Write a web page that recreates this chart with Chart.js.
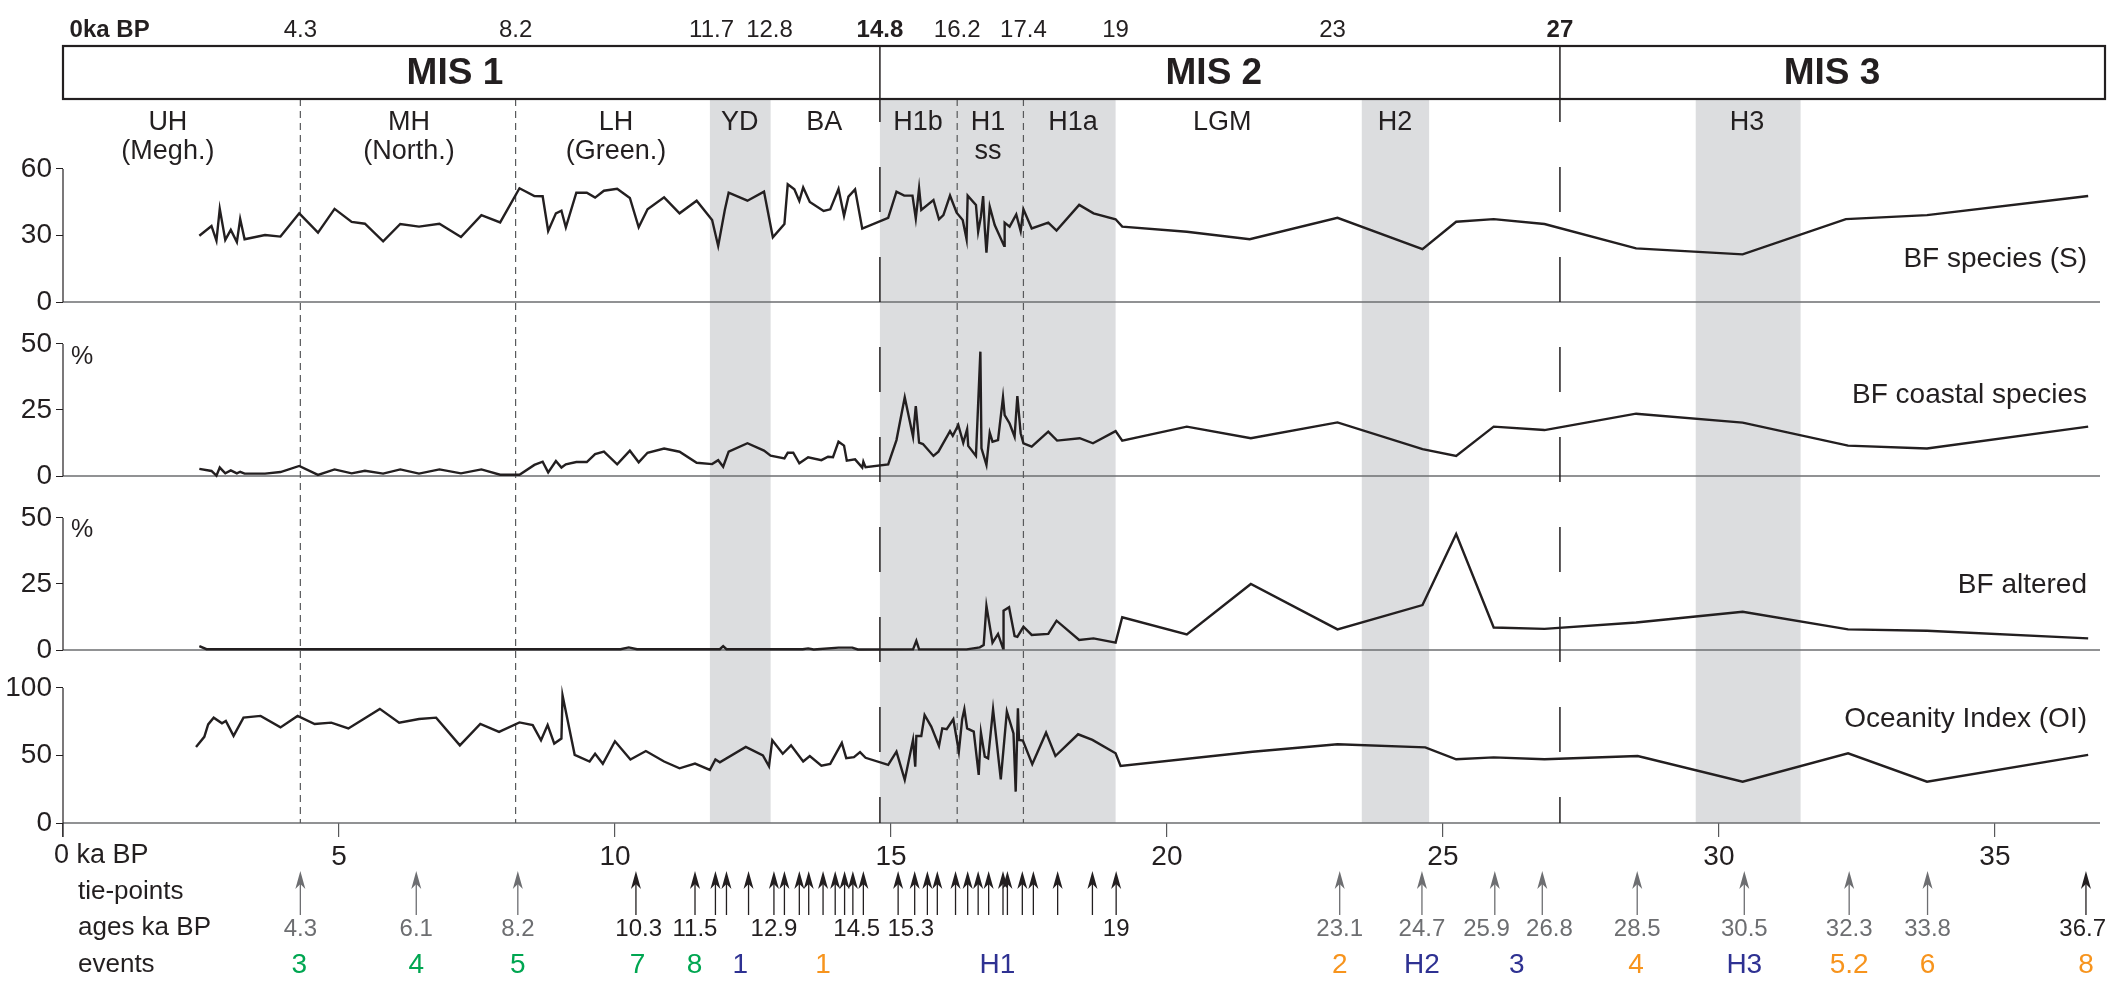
<!DOCTYPE html>
<html><head><meta charset="utf-8">
<script src="https://cdn.jsdelivr.net/npm/chart.js@4.4.1/dist/chart.umd.min.js"></script>
<style>html,body{margin:0;padding:0;background:#fff}#wrap{width:2112px;height:981px}</style>
</head><body><div id="wrap"><canvas id="c" width="2112" height="981"></canvas></div>
<script>
// ---------------- DATA ----------------
const speciesAge = [2.47,2.69,2.78,2.84,2.94,3.04,3.15,3.21,3.29,3.66,3.94,4.28,4.62,4.92,5.23,5.47,5.8,6.11,6.45,6.82,7.21,7.58,7.92,8.27,8.54,8.69,8.79,8.93,9.03,9.11,9.3,9.49,9.64,9.8,10.04,10.27,10.43,10.59,10.89,11.17,11.48,11.76,11.87,11.99,12.06,12.4,12.7,12.86,13.07,13.13,13.25,13.34,13.41,13.53,13.78,13.9,14.05,14.15,14.23,14.35,14.48,14.95,15.1,15.24,15.39,15.45,15.51,15.55,15.77,15.87,15.95,16.07,16.19,16.3,16.37,16.39,16.54,16.58,16.63,16.67,16.7,16.73,16.79,16.88,17.05,17.06,17.15,17.27,17.35,17.4,17.55,17.85,18.0,18.41,18.67,19.07,19.19,20.36,21.5,23.09,24.63,25.24,25.92,26.84,28.5,30.43,32.3,33.77,36.69];
const speciesS = [29.9,34.3,27.7,42,28,32.5,27,37.4,28.3,30.2,29.5,40,31.3,42,36.1,35.3,27.4,35.2,34,35.3,29.3,39.2,35.9,51.3,47.8,47.7,32,40,41.2,33.7,49.3,49.3,47.1,50.2,51.1,46.9,33.7,41.8,47.2,40,45.7,37,25.3,41.5,49.3,45.7,49.8,29.2,35.2,53.1,50.8,45.6,51.7,45.1,41.1,41.8,51,38.9,47.5,50.8,33.1,38,49.8,48,48,37.7,51.3,41.5,46,37.3,39.2,48,40.3,37,28.3,48,43.8,31.7,38.5,47.8,33.2,22.3,43,34.7,25.3,35.8,34,39.5,32,41.8,33.2,35.8,32.2,43.8,40,37.3,34,31.7,28.3,38,23.8,36.2,37.4,35.2,24.2,21.5,37.4,39.2,47.8];

const coastalAge = [2.47,2.69,2.78,2.84,2.94,3.04,3.15,3.21,3.29,3.66,3.94,4.28,4.62,4.92,5.23,5.47,5.8,6.11,6.45,6.82,7.21,7.58,7.92,8.27,8.54,8.69,8.79,8.93,9.03,9.11,9.3,9.49,9.64,9.8,10.04,10.27,10.43,10.59,10.89,11.17,11.48,11.76,11.87,11.96,12.06,12.4,12.7,12.82,13.07,13.13,13.23,13.34,13.5,13.74,13.86,13.95,14.05,14.15,14.2,14.35,14.48,14.5,14.54,14.95,15.1,15.25,15.4,15.45,15.51,15.58,15.77,15.86,16.07,16.12,16.22,16.31,16.38,16.4,16.54,16.62,16.64,16.73,16.79,16.84,16.94,17.03,17.06,17.15,17.24,17.29,17.35,17.4,17.55,17.85,18.01,18.42,18.66,19.07,19.19,20.36,21.52,23.09,24.63,25.24,25.92,26.84,28.5,30.43,32.34,33.77,36.69];
const coastalPct = [2.7,1.9,0.1,3.2,1,2.1,1,1.6,0.9,0.9,1.5,3.8,0.4,2.5,1,2,0.9,2.5,0.9,2.5,1,2.5,0.5,0.5,4.2,5.4,1.4,5.7,3.2,4.4,5.3,5.3,8.3,9.2,4.4,9.6,5.2,8.8,10.4,9.2,5,4.5,6,3.5,9.2,12.4,9.6,7.7,6.7,8.8,8.8,4.8,7.1,6,7.3,7.1,13,11.5,5.8,6.3,3.2,5.4,3.3,4.4,13.6,29.8,14.9,26.5,12.6,12.1,7.6,9.2,17,15.2,19.3,12.6,17.7,11.4,7.6,47.1,10.5,4.2,16.4,13,13.6,29.8,23.1,19.9,14.9,30.3,16.2,12.4,11.1,16.8,13.4,14.3,12.4,17,13.4,18.7,14.3,20.3,10.2,7.6,18.7,17.4,23.6,20.2,11.5,10.4,18.7];

const alteredAge = [2.47,2.6,10.1,10.25,10.4,11.9,11.96,12.02,13.4,13.5,13.6,14.05,14.3,14.4,15.4,15.46,15.51,16.37,16.61,16.68,16.73,16.84,16.94,17.03,17.04,17.14,17.24,17.29,17.4,17.55,17.85,18.0,18.41,18.67,19.07,19.19,20.36,21.52,23.09,24.63,25.24,25.92,26.84,28.5,30.43,32.34,33.77,36.69];
const alteredPct = [1.5,0.3,0.3,1,0.3,0.3,1.5,0.3,0.3,0.6,0.2,0.9,0.9,0.2,0.25,3.5,0.25,0.25,1,1.9,16.7,2.8,6.1,0.6,14.9,16.2,5.3,5,8.8,5.7,6.1,11.1,3.8,4.4,2.8,12.4,5.9,25,7.8,17,43.9,8.5,8,10.4,14.5,7.8,7.3,4.4];

const oceanAge = [2.41,2.56,2.63,2.73,2.88,2.95,3.09,3.27,3.58,3.94,4.25,4.56,4.86,5.17,5.74,6.09,6.45,6.76,7.19,7.56,7.9,8.27,8.51,8.66,8.78,8.9,9.03,9.05,9.27,9.54,9.64,9.78,10.0,10.28,10.56,10.89,11.17,11.45,11.72,11.82,11.9,12.37,12.68,12.79,12.85,13.04,13.19,13.41,13.53,13.74,13.9,14.11,14.19,14.33,14.44,14.54,14.95,15.1,15.25,15.4,15.44,15.46,15.55,15.61,15.73,15.87,15.93,16.01,16.13,16.23,16.29,16.33,16.38,16.5,16.59,16.63,16.7,16.76,16.85,16.99,17.1,17.22,17.26,17.3,17.32,17.39,17.56,17.81,17.98,18.39,18.65,19.07,19.16,21.55,23.09,24.68,25.24,25.92,26.84,28.53,30.43,32.34,33.77,36.69];
const oceanOI = [56.3,63.8,73,78,73.8,75.5,64.5,78,79.3,70.8,79.3,73.3,74.3,70,84.5,74.3,77,78,57.5,73.3,67.5,74.5,72.5,61.3,72.5,58.8,62.5,94.5,50.5,45.5,51.3,43.8,60.5,47,53.3,45.5,40.5,44,39.3,47,45,56.3,50,42,61.3,51.3,57.5,45.5,49.5,42.5,43.8,59.3,48,48.8,52.5,48.3,43,52.8,31.9,61.5,41.7,64.4,64.4,80,71.4,57,70.1,69.4,76.8,52.8,76.8,84.2,70.1,67.7,35.6,66.9,49.1,47.9,84.2,32.3,82.5,66.4,23.2,84.9,61.5,61,43.5,66.9,49.6,65.7,61.5,51.6,42.2,52.8,58.3,56,47.2,48.6,47.2,49.6,30.6,51.6,30.6,50.4];

const xTicks = [0,5,10,15,20,25,30,35];
const ticksS = [0,30,60];
const ticksCoastal = [0,25,50];
const ticksAltered = [0,25,50];
const ticksOI = [0,50,100];
const seriesNames = ['BF species (S)','BF coastal species','BF altered','Oceanity Index (OI)'];

const headerText = ['0ka BP','4.3','8.2','11.7','12.8','14.8','16.2','17.4','19','23','27'];
const headerPos  = [0.12,4.3,8.2,11.75,12.8,14.8,16.2,17.4,19.07,23,27.12];
const headerBold = [1,0,0,0,0,1,0,0,0,0,1];

const misText = ['MIS 1','MIS 2','MIS 3'];
const misPos = [7.1,20.85,32.05];
const misBounds = [14.8,27.12];

const periodText1 = ['UH','MH','LH','YD','BA','H1b','H1','H1a','LGM','H2','H3'];
const periodText2 = ['(Megh.)','(North.)','(Green.)','','','','ss','','','',''];
const periodPos = [1.9,6.27,10.02,12.26,13.79,15.49,16.76,18.3,21.0,24.13,30.51];

const bandStart = [11.72,14.8,23.53,29.58];
const bandEnd   = [12.82,19.07,24.75,31.48];
const shortDashAt = [4.3,8.2,16.2,17.4];
const longDashAt = [14.8,27.12];

const tieAges = [4.3,6.4,8.24,10.38,11.45,11.82,12.02,12.42,12.88,13.07,13.34,13.51,13.77,13.99,14.16,14.31,14.5,15.13,15.43,15.66,15.84,16.17,16.39,16.58,16.77,17.03,17.11,17.38,17.58,18.02,18.65,19.08,23.13,24.62,25.94,26.8,28.52,30.46,32.36,33.78,36.65];
const tieKind = ['g','g','g','k','k','k','k','k','k','k','k','k','k','k','k','k','k','k','k','k','k','k','k','k','k','k','k','k','k','k','k','k','g','g','g','g','g','g','g','g','k'];

const ageText = ['4.3','6.1','8.2','10.3','11.5','12.9','14.5','15.3','19','23.1','24.7','25.9','26.8','28.5','30.5','32.3','33.8','36.7'];
const agePos  = [4.3,6.4,8.24,10.43,11.45,12.88,14.38,15.36,19.08,23.13,24.62,25.79,26.93,28.52,30.46,32.36,33.78,36.59];
const ageKind = ['g','g','g','k','k','k','k','k','k','g','g','g','g','g','g','g','g','k'];

const eventText = ['3','4','5','7','8','1','1','H1','2','H2','3','4','H3','5.2','6','8'];
const eventPos  = [4.28,6.4,8.24,10.41,11.44,12.27,13.77,16.93,23.13,24.62,26.34,28.5,30.46,32.36,33.78,36.65];
const eventKind = ['g','g','g','g','g','b','o','b','o','b','b','o','b','o','o','o'];

// ---------------- STYLE ----------------
const INK = '#231f20', GREY = '#6d6e71', BAND = '#dcdddf';
const KIND = {g: GREY, k: INK};
const EVC = {g: '#00a651', b: '#2e3192', o: '#f7941d'};
const FF = '"Liberation Sans", Arial, sans-serif';

function pts(a, v) { return a.map((x, i) => ({x: x, y: v[i]})); }
function fixTicks(list) { return function (s) { s.ticks = list.map(v => ({value: v})); }; }

function yScale(list, max, w, order) {
  return {
    type: 'linear', position: 'left', stack: 'panels', stackWeight: w, weight: order,
    min: 0, max: max, offset: false,
    afterBuildTicks: fixTicks(list),
    afterFit: s => { s.width = 63; },
    grid: {drawOnChartArea: false, drawTicks: true, tickLength: 7, color: INK, lineWidth: 1},
    border: {display: false},
    ticks: {font: {family: FF, size: 28}, color: INK, padding: 4}
  };
}

const ds = (d, id) => ({data: d, yAxisID: id, borderColor: INK, borderWidth: 2.4, pointRadius: 0,
  fill: false, tension: 0, clip: false, borderJoinStyle: 'miter'});

function txt(ctx, s, x, y, font, color, align) {
  ctx.font = font; ctx.fillStyle = color; ctx.textAlign = align || 'center';
  ctx.textBaseline = 'middle'; ctx.fillText(s, x, y);
}

const decor = {
  id: 'decor',
  beforeDatasetsDraw(chart) {
    const ctx = chart.ctx, a = chart.chartArea, X = v => chart.scales.x.getPixelForValue(v);
    const top = 99, bot = a.bottom;
    ctx.save();
    ctx.fillStyle = BAND;
    bandStart.forEach((b, i) => { ctx.fillRect(X(b), top, X(bandEnd[i]) - X(b), bot - top); });
    ctx.strokeStyle = GREY; ctx.lineWidth = 1.6;
    ['yS','yC','yA','yO'].forEach(id => {
      const y = chart.scales[id].getPixelForValue(0);
      ctx.beginPath(); ctx.moveTo(a.left, y); ctx.lineTo(a.right + 3, y); ctx.stroke();
    });
    ctx.strokeStyle = INK; ctx.lineWidth = 1.2;
    [['yS',ticksS],['yC',ticksCoastal],['yA',ticksAltered],['yO',ticksOI]].forEach(([id,t]) => {
      const s = chart.scales[id];
      ctx.beginPath(); ctx.moveTo(a.left, s.getPixelForValue(t[t.length-1]));
      ctx.lineTo(a.left, s.getPixelForValue(0) + (id === 'yO' ? 14 : 0)); ctx.stroke();
    });
    ctx.strokeStyle = '#58595b'; ctx.lineWidth = 1.2; ctx.setLineDash([7,5]);
    shortDashAt.forEach(v => { ctx.beginPath(); ctx.moveTo(X(v), top); ctx.lineTo(X(v), bot); ctx.stroke(); });
    ctx.strokeStyle = INK; ctx.lineWidth = 1.5; ctx.setLineDash([45,45]); ctx.lineDashOffset = 22;
    longDashAt.forEach(v => { ctx.beginPath(); ctx.moveTo(X(v), top); ctx.lineTo(X(v), bot); ctx.stroke(); });
    ctx.restore();
  },
  afterDraw(chart) {
    const ctx = chart.ctx, a = chart.chartArea, X = v => chart.scales.x.getPixelForValue(v);
    ctx.save();
    headerText.forEach((t, i) => {
      txt(ctx, t, X(headerPos[i]), 30, (headerBold[i] ? 'bold ' : '') + '24px ' + FF, INK, i === 0 ? 'left' : 'center');
    });
    ctx.strokeStyle = INK; ctx.lineWidth = 2.2; ctx.setLineDash([]);
    ctx.strokeRect(a.left, 46, a.right + 8 - a.left, 53);
    ctx.lineWidth = 1.5;
    misBounds.forEach(v => { ctx.beginPath(); ctx.moveTo(X(v), 46); ctx.lineTo(X(v), 99); ctx.stroke(); });
    misText.forEach((t, i) => txt(ctx, t, X(misPos[i]), 74, 'bold 37px ' + FF, INK));
    periodText1.forEach((t, i) => {
      txt(ctx, t, X(periodPos[i]), 123, '27px ' + FF, INK);
      if (periodText2[i]) txt(ctx, periodText2[i], X(periodPos[i]), 152, '27px ' + FF, INK);
    });
    const ny = [259, 395, 585, 719];
    seriesNames.forEach((t, i) => txt(ctx, t, 2087, ny[i], '28px ' + FF, INK, 'right'));
    txt(ctx, '%', 82, 357, '25px ' + FF, INK);
    txt(ctx, '%', 82, 530, '25px ' + FF, INK);
    txt(ctx, '0 ka BP', a.left - 9, 856, '27px ' + FF, INK, 'left');
    txt(ctx, 'tie-points', 78, 892, '26px ' + FF, INK, 'left');
    txt(ctx, 'ages ka BP', 78, 928, '26px ' + FF, INK, 'left');
    txt(ctx, 'events', 78, 965, '26px ' + FF, INK, 'left');
    tieAges.forEach((v, i) => {
      const x = X(v), c = KIND[tieKind[i]];
      ctx.strokeStyle = c; ctx.fillStyle = c; ctx.lineWidth = 1.3;
      ctx.beginPath(); ctx.moveTo(x, 884); ctx.lineTo(x, 915); ctx.stroke();
      ctx.beginPath(); ctx.moveTo(x, 871); ctx.lineTo(x - 5, 889); ctx.lineTo(x, 884); ctx.lineTo(x + 5, 889); ctx.closePath(); ctx.fill();
    });
    ageText.forEach((t, i) => txt(ctx, t, X(agePos[i]), 929, '24px ' + FF, KIND[ageKind[i]]));
    eventText.forEach((t, i) => txt(ctx, t, X(eventPos[i]), 965, '28px ' + FF, EVC[eventKind[i]]));
    ctx.restore();
  }
};

new Chart(document.getElementById('c'), {
  type: 'line',
  data: {datasets: [
    ds(pts(speciesAge, speciesS), 'yS'),
    ds(pts(coastalAge, coastalPct), 'yC'),
    ds(pts(alteredAge, alteredPct), 'yA'),
    ds(pts(oceanAge, oceanOI), 'yO')
  ]},
  options: {
    responsive: false, animation: false, devicePixelRatio: 1,
    layout: {padding: {top: 99, right: 15, bottom: 0, left: 0}},
    plugins: {legend: {display: false}, tooltip: {enabled: false}},
    scales: {
      x: {type: 'linear', position: 'bottom', min: 0, max: 36.85,
        afterBuildTicks: fixTicks(xTicks),
        afterFit: s => { s.height = 158; },
        grid: {drawOnChartArea: false, drawTicks: true, tickLength: 14, color: '#58595b', lineWidth: 1.2},
        border: {display: false},
        ticks: {font: {family: FF, size: 28}, color: INK, padding: 3, maxRotation: 0,
          callback: v => v === 0 ? '' : String(v)}},
      yS: yScale(ticksS, 91.57, 203, 4),
      yC: yScale(ticksCoastal, 65.9, 174, 3),
      yA: yScale(ticksAltered, 65.9, 174, 2),
      yO: yScale(ticksOI, 128.1, 173, 1)
    }
  },
  plugins: [decor]
});
</script></body></html>
